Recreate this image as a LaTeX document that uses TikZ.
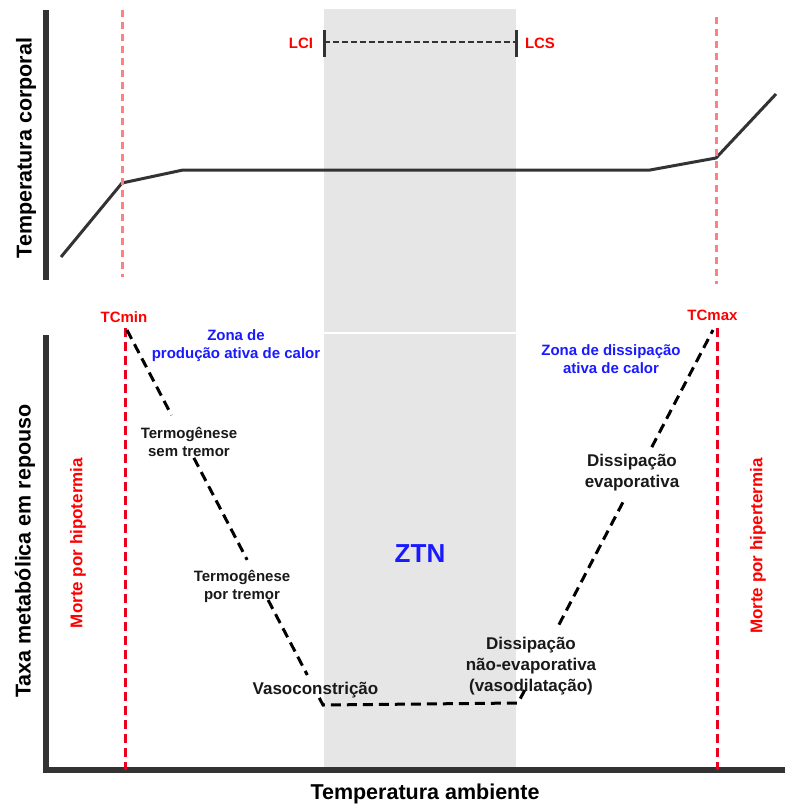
\documentclass[tikz,border=0pt]{standalone}
\usepackage{fontspec}
\setmainfont{Liberation Sans}
\usetikzlibrary{calc}
\definecolor{axisgrey}{HTML}{333333}
\definecolor{ztngrey}{HTML}{E6E6E6}
\definecolor{palered}{HTML}{FF8080}
\definecolor{deepred}{HTML}{E8001C}
\definecolor{txtred}{HTML}{FF0000}
\definecolor{txtblue}{HTML}{1A1AFF}
\begin{document}
\begin{tikzpicture}[x=1pt,y=-1pt,
  axisline/.style={line width=6pt, draw=axisgrey},
  curveline/.style={line width=3pt, draw=axisgrey, line join=round},
  paledash/.style={line width=3pt, draw=palered, dash pattern=on 7pt off 5pt},
  reddash/.style={line width=3pt, draw=deepred, dash pattern=on 9pt off 5pt},
  blackdash/.style={line width=3pt, draw=black, dash pattern=on 10pt off 6pt},
  rangedash/.style={line width=2.5pt, draw=axisgrey, dash pattern=on 6pt off 3pt},
  tickline/.style={line width=3pt, draw=axisgrey},
  axislabel/.style={font=\fontsize{21.5}{24}\selectfont\bfseries, text=black, inner sep=0pt},
  deathlabel/.style={font=\fontsize{17}{20}\selectfont\bfseries, text=txtred, rotate=90, inner sep=0pt},
  limlabel/.style={font=\fontsize{15}{18}\selectfont\bfseries, text=txtred, inner sep=0pt},
  zonelabel/.style={font=\fontsize{15}{18.5}\selectfont\bfseries, text=txtblue, align=center, inner sep=0pt},
  mechlabel/.style={font=\fontsize{15}{18}\selectfont\bfseries, text=black!90, align=center, inner sep=0pt},
  mechbig/.style={font=\fontsize{17}{21}\selectfont\bfseries, text=black!90, align=center, inner sep=0pt},
]
\useasboundingbox (0,0) rectangle (785,804);
\fill[white] (0,0) rectangle (785,804);

% ZTN band
\fill[ztngrey] (324,9) rectangle (516,770);
\draw[white, line width=1.2pt] (324,333) -- (516,333);

% axes
\draw[axisline] (46,10) -- (46,280);
\draw[axisline, line join=miter] (46,335) -- (46,770) -- (785,770);

% top panel: body temperature curve
\draw[curveline] (61,257) -- (122,183) -- (183,170) -- (650,170) -- (716,158) -- (776,94);
\draw[paledash] (122,10) -- (122,277);
\draw[paledash] (716,17) -- (716,284);

% LCI - LCS range
\coordinate (lci) at (324,42);
\coordinate (lcs) at (516,42);
\draw[rangedash] (lci) -- (lcs);
\draw[tickline] (324,30) -- (324,57);
\draw[tickline] (516,30) -- (516,57);
\node[limlabel, anchor=base] (lcilab) at (301,48) {LCI};
\node[limlabel, anchor=base] (lcslab) at (540,48) {LCS};

% bottom panel: limits
\draw[reddash] (125,328) -- (125,770);
\draw[reddash] (717,328) -- (717,770);

% metabolic rate curve
\coordinate (T1) at (127,330);
\coordinate (B1) at (323,705);
\coordinate (B2) at (518,703);
\coordinate (T2) at (713,330);
\draw[blackdash] (T1) -- ($(T1)!0.227!(B1)$);
\draw[blackdash] ($(T1)!0.341!(B1)$) -- ($(T1)!0.613!(B1)$);
\draw[blackdash] ($(T1)!0.72!(B1)$) -- ($(T1)!0.92!(B1)$);
\draw[blackdash] ($(T1)!0.981!(B1)$) -- (B1) -- (B2) -- ($(B2)!0.035!(T2)$);
\draw[blackdash] ($(B2)!0.21!(T2)$) -- ($(B2)!0.55!(T2)$);
\draw[blackdash] ($(B2)!0.686!(T2)$) -- (T2);

% axis labels
\coordinate (ylabA) at (26,148);
\coordinate (ylabB) at (25,551);
\node[axislabel, rotate=90] (tc) at (ylabA) {Temperatura corporal};
\node[axislabel, rotate=90] (tmr) at (ylabB) {Taxa metabólica em repouso};
\node[axislabel, anchor=base] (ta) at (425,799) {Temperatura ambiente};

% death labels
\coordinate (dA) at (78,543);
\coordinate (dB) at (758,546);
\node[deathlabel] (hipo) at (dA) {Morte por hipotermia};
\node[deathlabel] (hiper) at (dB) {Morte por hipertermia};

% limit labels
\node[limlabel, anchor=base] (tcmin) at (124,322) {TCmin};
\node[limlabel, anchor=base] (tcmax) at (712.5,320) {TCmax};

% ZTN
\node[font=\fontsize{26}{30}\selectfont\bfseries, text=txtblue, inner sep=0pt, anchor=base] (ztn) at (420,562) {ZTN};

% zone labels
\node[zonelabel] (zprod) at (236,345.5) {Zona de\\produção ativa de calor};
\node[zonelabel] (zdiss) at (611,359) {Zona de dissipação\\ativa de calor};

% mechanisms
\node[mechlabel] (tst) at (189,442) {Termogênese\\sem tremor};
\node[mechlabel] (tpt) at (242,586) {Termogênese\\por tremor};
\node[mechbig, anchor=base] (vaso) at (315.5,694) {Vasoconstrição};
\node[mechbig] (dne) at (531,666) {Dissipação\\não-evaporativa\\(vasodilatação)};
\node[mechbig] (dev) at (632,473) {Dissipação\\evaporativa};
\end{tikzpicture}
\end{document}
